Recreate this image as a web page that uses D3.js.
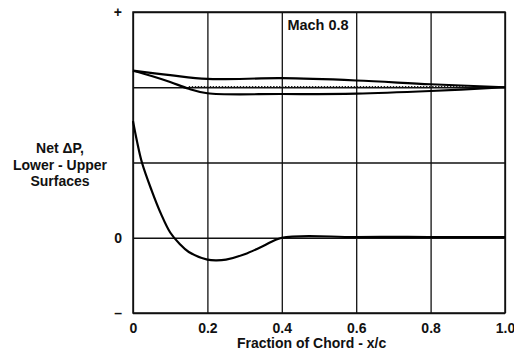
<!DOCTYPE html>
<html>
<head>
<meta charset="utf-8">
<script src="https://cdn.jsdelivr.net/npm/d3@7"></script>
<style>
  html, body { margin: 0; padding: 0; background: #fff; }
  svg { display: block; font-family: "Liberation Sans", Arial, sans-serif; }
</style>
</head>
<body>
<svg id="chart" width="514" height="364"></svg>
<script>
// x grid / tick labels
const xTicks = [0, 0.2, 0.4, 0.6, 0.8, 1.0];
const xTickLabels = ["0", "0.2", "0.4", "0.6", "0.8", "1.0"];

// y grid (in arbitrary load units) and the three labelled levels
const yGrid = [-1, 0, 1, 2, 3];
const yTicks = [-1, 0, 3];
const yTickLabels = ["\u2013", "0", "+"];

// net load curve, lower - upper
const loadX = [0, 0.01, 0.024, 0.05, 0.075, 0.1, 0.125, 0.15, 0.2, 0.225, 0.25, 0.3, 0.35, 0.4, 0.6, 0.8, 1.0];
const netLoad = [1.55, 1.3, 1.0, 0.63, 0.32, 0.07, -0.08, -0.19, -0.29, -0.30, -0.29, -0.22, -0.11, 0, 0.01, 0.01, 0.01];

// thin band near the top
const upperX = [0, 0.1, 0.2, 0.4, 0.6, 0.8, 1.0];
const upperBand = [2.22, 2.16, 2.11, 2.12, 2.09, 2.04, 2.0];
const lowerX = [0, 0.05, 0.1, 0.15, 0.2, 0.4, 0.6, 0.8, 1.0];
const lowerBand = [2.22, 2.15, 2.07, 1.98, 1.92, 1.91, 1.915, 1.95, 2.0];
const midX = [0.15, 0.4, 0.6, 0.9];
const midBand = [2.01, 2.01, 2.01, 2.01];

const svg = d3.select("#chart");
const margin = {top: 12, left: 133, right: 9, bottom: 51};
const width = 514, height = 364;
const plotW = width - margin.left - margin.right;
const plotH = height - margin.top - margin.bottom;

const x = d3.scaleLinear().domain([0, 1]).range([0, plotW]);
const y = d3.scaleLinear().domain([-1, 3]).range([plotH, 0]);

const plot = svg.append("g")
    .attr("transform", `translate(${margin.left}, ${margin.top})`);

// gridlines
plot.append("g")
    .attr("class", "xGrid")
    .call(d3.axisBottom(x).tickValues(xTicks).tickSize(plotH).tickFormat(""))
    .call(g => g.select(".domain").remove())
    .selectAll("line").attr("stroke", "#111").attr("stroke-width", 1.3);

plot.append("g")
    .attr("class", "yGrid")
    .call(d3.axisLeft(y).tickValues(yGrid).tickSize(-plotW).tickFormat(""))
    .call(g => g.select(".domain").remove())
    .selectAll("line").attr("stroke", "#111").attr("stroke-width", 1.3);

// frame
plot.append("rect")
    .attr("x", 0).attr("y", 0)
    .attr("width", plotW).attr("height", plotH)
    .attr("fill", "none").attr("stroke", "#111").attr("stroke-width", 1.5);

// axis labels
const yAxis = plot.append("g")
    .call(d3.axisLeft(y).tickValues(yTicks).tickSize(0).tickPadding(11)
        .tickFormat((d, i) => yTickLabels[i]));
yAxis.select(".domain").remove();
yAxis.selectAll("text")
    .style("font-family", "Liberation Sans, Arial, sans-serif")
    .style("font-size", "14px")
    .style("font-weight", "bold")
    .attr("fill", "#111");

const xAxis = plot.append("g")
    .attr("transform", `translate(0, ${plotH})`)
    .call(d3.axisBottom(x).tickValues(xTicks).tickSize(0).tickPadding(10)
        .tickFormat((d, i) => xTickLabels[i]));
xAxis.select(".domain").remove();
xAxis.selectAll("text")
    .style("font-family", "Liberation Sans, Arial, sans-serif")
    .style("font-size", "14px")
    .style("font-weight", "bold")
    .attr("fill", "#111");

// curves
const line = d3.line()
    .x(d => x(d[0]))
    .y(d => y(d[1]))
    .curve(d3.curveCatmullRom.alpha(0.5));

plot.append("path")
    .datum(loadX.map((v, i) => [v, netLoad[i]]))
    .attr("d", line)
    .attr("fill", "none").attr("stroke", "#000").attr("stroke-width", 2.2);

plot.append("path")
    .datum(upperX.map((v, i) => [v, upperBand[i]]))
    .attr("d", line)
    .attr("fill", "none").attr("stroke", "#000").attr("stroke-width", 2.2);

plot.append("path")
    .datum(lowerX.map((v, i) => [v, lowerBand[i]]))
    .attr("d", line)
    .attr("fill", "none").attr("stroke", "#000").attr("stroke-width", 2.2);

plot.append("path")
    .datum(midX.map((v, i) => [v, midBand[i]]))
    .attr("d", line)
    .attr("fill", "none").attr("stroke", "#222").attr("stroke-width", 1.2)
    .attr("stroke-dasharray", "1.5,1.5");

// annotation
plot.append("text")
    .attr("x", x(0.415)).attr("y", y(2.76))
    .style("font-size", "14.5px").style("font-weight", "bold")
    .attr("fill", "#111")
    .text("Mach 0.8");

// y title
const yTitle = svg.append("text")
    .attr("text-anchor", "middle")
    .style("font-size", "14px").style("font-weight", "bold")
    .attr("fill", "#111");
["Net \u0394P,", "Lower - Upper", "Surfaces"].forEach((t, i) => {
    yTitle.append("tspan").attr("x", 60).attr("y", 153 + i * 16.5).text(t);
});

// x title
svg.append("text")
    .attr("x", margin.left + x(0.48)).attr("y", 348)
    .attr("text-anchor", "middle")
    .style("font-size", "14px").style("font-weight", "bold")
    .attr("fill", "#111")
    .text("Fraction of Chord - x/c");
</script>
</body>
</html>
